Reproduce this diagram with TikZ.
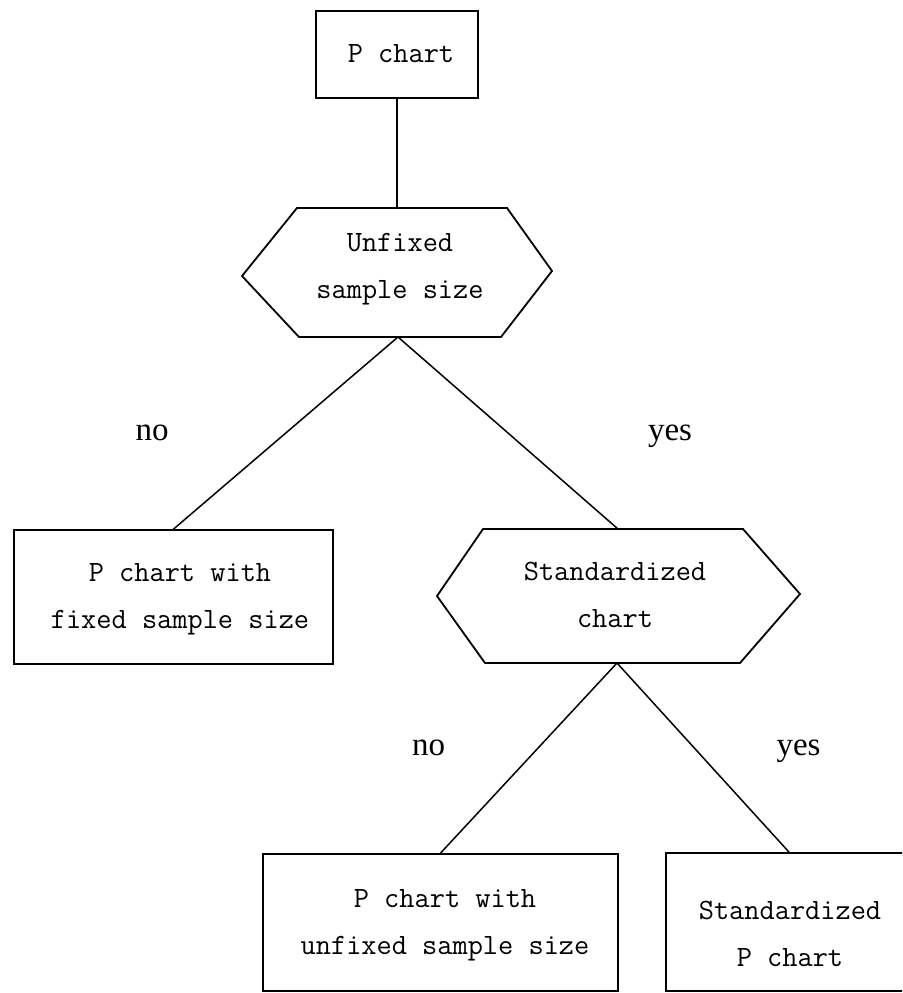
\documentclass[tikz,border=0pt]{standalone}
\usepackage{fontspec}
\setmainfont{Liberation Serif}
\begin{document}
\begin{tikzpicture}[x=1pt,y=-1pt,
  boxshape/.style={draw, line width=1.8pt, inner sep=0pt},
  hexshape/.style={draw, line width=1.8pt, line join=miter},
  conn/.style={line width=1.5pt},
  txt/.style={font=\ttfamily\fontsize{29.5}{47}\selectfont, align=center, inner sep=0pt},
  ans/.style={font=\fontsize{33}{40}\selectfont, anchor=base, inner sep=0pt}]
\clip (0,0) rectangle (902,993);
\fill[white] (0,0) rectangle (902,993);

% top box
\node[boxshape, minimum width=162pt, minimum height=87pt] (pc) at (397,54.5) {};
\node[txt] (pct) at (401,54) {P chart};

% hexagon 1
\coordinate (h1tl) at (297,208);
\coordinate (h1tr) at (507,208);
\coordinate (h1r) at (552,271);
\coordinate (h1br) at (501,337);
\coordinate (h1bl) at (299,337);
\coordinate (h1l) at (242,276);
\coordinate (h1n) at (397,208);
\coordinate (h1s) at (398,337);
\draw[hexshape] (h1tl) -- (h1tr) -- (h1r) -- (h1br) -- (h1bl) -- (h1l) -- cycle;
\node[txt] (h1t) at (400,269) {Unfixed\\sample size};

% box 1
\node[boxshape, minimum width=319pt, minimum height=134pt] (b1) at (173.5,597) {};
\node[txt] (b1t) at (180,599) {P chart with\\fixed sample size};

% hexagon 2
\coordinate (h2tl) at (483,529);
\coordinate (h2tr) at (743,529);
\coordinate (h2r) at (800,594);
\coordinate (h2br) at (740,663);
\coordinate (h2bl) at (485,663);
\coordinate (h2l) at (437,596);
\coordinate (h2n) at (618,529);
\coordinate (h2s) at (617,663);
\draw[hexshape] (h2tl) -- (h2tr) -- (h2r) -- (h2br) -- (h2bl) -- (h2l) -- cycle;
\node[txt] (h2t) at (615,594.5) {Standardized\\chart};

% box 3
\node[boxshape, minimum width=355pt, minimum height=137pt] (b3) at (440.5,922.5) {};
\node[txt] (b3t) at (445,925) {P chart with\\unfixed sample size};

% box 4
\node[boxshape, minimum width=246pt, minimum height=138pt] (b4) at (789,922) {};
\node[txt] (b4t) at (790,934) {Standardized\\P chart};

% connectors
\draw[conn] (pc.south) -- (h1n);
\draw[conn] (h1s) -- (b1.north);
\draw[conn] (h1s) -- (h2n);
\draw[conn] (h2s) -- (b3.north);
\draw[conn] (h2s) -- (b4.north);

% labels
\node[ans] (n1) at (152,440) {no};
\node[ans] (y1) at (670,440) {yes};
\node[ans] (n2) at (428.5,755) {no};
\node[ans] (y2) at (798.5,755) {yes};
\end{tikzpicture}
\end{document}
